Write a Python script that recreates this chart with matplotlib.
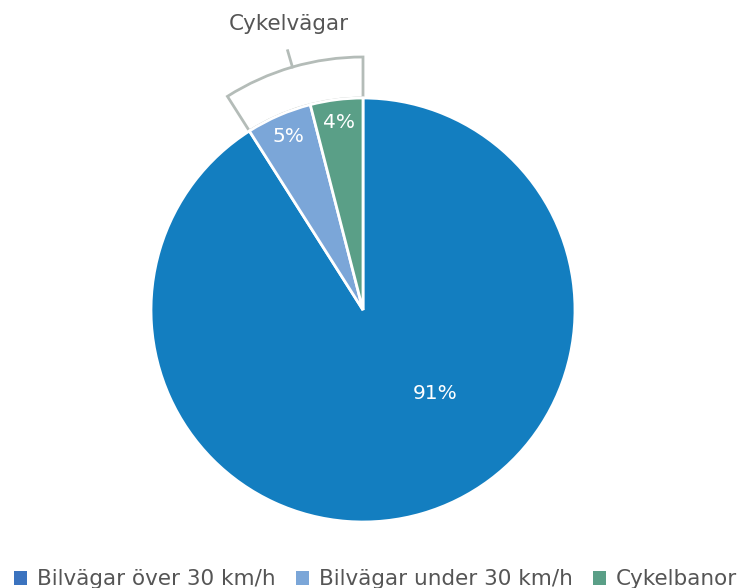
import numpy as np
import matplotlib
matplotlib.use('Agg')
import matplotlib.pyplot as plt
from matplotlib.patches import Wedge, Patch

# data
categories = ['Bilvägar över 30 km/h', 'Bilvägar under 30 km/h', 'Cykelbanor']
shares = [91, 5, 4]
pie_colors = ['#137ec0', '#7ba6d8', '#5a9f87']
legend_colors = ['#3b73bf', '#7ba6d8', '#5a9f87']
group_label = 'Cykelvägar'

W, H = 739, 588
fig = plt.figure(figsize=(W / 100, H / 100), dpi=100)
ax = fig.add_axes([0, 0, 1, 1])

cx, cy, R = 363, H - 310, 212
wedges, _ = ax.pie(shares, colors=pie_colors, startangle=90, counterclock=False,
                   center=(cx, cy), radius=R, frame=True,
                   wedgeprops=dict(edgecolor='white', linewidth=2))
ax.set_xlim(0, W)
ax.set_ylim(0, H)
ax.set_aspect('equal')
ax.axis('off')

# percentage labels
pct_pos = [(0.52, -49.4), (0.89, None), (0.89, None)]
for w, s, (frac, ang) in zip(wedges, shares, pct_pos):
    if ang is None:
        ang = (w.theta1 + w.theta2) / 2
    x = cx + frac * R * np.cos(np.radians(ang))
    y = cy + frac * R * np.sin(np.radians(ang))
    ax.text(x, y, f'{s}%', color='white', fontsize=14.5, ha='center', va='center',
            family='DejaVu Sans')

# bracket around the two bike slices
t_lo = min(wedges[2].theta1, wedges[2].theta2)
t_hi = max(wedges[1].theta1, wedges[1].theta2)
r_out = 253
br = Wedge((cx, cy), r_out, t_lo, t_hi, width=r_out - R, facecolor='white',
           edgecolor='#b4bcb8', linewidth=2, zorder=0)
ax.add_patch(br)
mid = np.radians((t_lo + t_hi) / 2)
ax.plot([cx + r_out * np.cos(mid), cx + 270 * np.cos(mid)],
        [cy + r_out * np.sin(mid), cy + 270 * np.sin(mid)],
        color='#b4bcb8', linewidth=2, zorder=0)
ax.text(289, H - 24, group_label, color='#555555', fontsize=15.5,
        ha='center', va='center', family='DejaVu Sans')

handles = [Patch(facecolor=c, edgecolor='none') for c in legend_colors]
fig.legend(handles, categories, loc='lower center', bbox_to_anchor=(0.508, -0.035),
           ncol=3, frameon=False, handlelength=0.62, handleheight=0.62,
           handletextpad=0.45, columnspacing=0.95,
           prop=dict(family='DejaVu Sans', size=15.5), labelcolor='#555555')

fig.savefig('out.png', dpi=100)
